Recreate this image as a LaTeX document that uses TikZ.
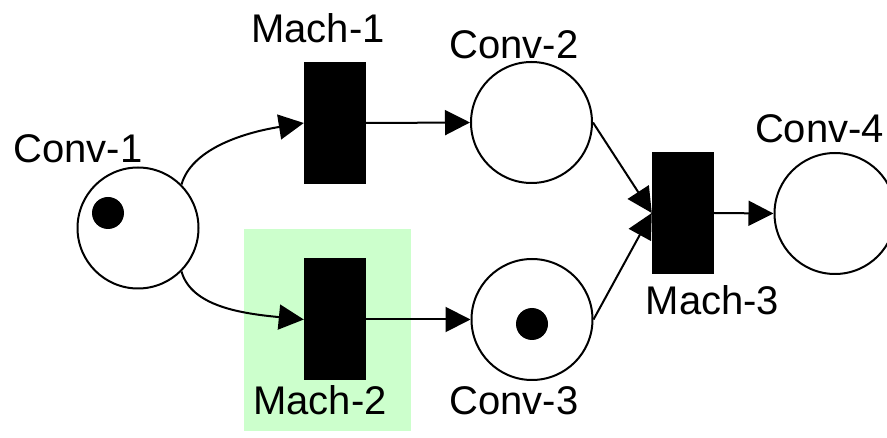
\documentclass[tikz,border=0pt]{standalone}
\usepackage{fontspec}
\setmainfont{Liberation Sans}
\usetikzlibrary{arrows.meta}
\definecolor{hl}{HTML}{CCFFCC}
\tikzset{
  place/.style={circle,draw,line width=2pt,minimum size=121pt,inner sep=0pt},
  trans/.style={rectangle,fill=black,minimum width=62pt,minimum height=122pt,inner sep=0pt},
  token/.style={circle,fill=black,minimum size=32pt,inner sep=0pt},
  lbl/.style={anchor=base,font=\fontsize{40pt}{40pt}\selectfont,inner sep=0pt},
  arc/.style={line width=2pt,-{Triangle[length=25pt,width=25pt]}}
}
\begin{document}
\begin{tikzpicture}[x=1pt,y=-1pt]
\useasboundingbox (0,0) rectangle (887,438);
\fill[hl] (244,229) rectangle (411,431);
% places
\node[place] (c1) at (138,228) {};
\node[place] (c2) at (531.5,122.5) {};
\node[place] (c3) at (532,319.5) {};
\node[place] (c4) at (835,213.5) {};
% tokens
\node[token] (t1) at (108,213) {};
\node[token] (t3) at (532,324) {};
% transitions
\node[trans] (m1) at (335,123) {};
\node[trans] (m2) at (335,319.5) {};
\node[trans] (m3) at (683,213) {};
% labels
\node[lbl] (l1) at (78,163) {Conv-1};
\node[lbl] (l2) at (514,59) {Conv-2};
\node[lbl] (l3) at (514,415) {Conv-3};
\node[lbl] (l4) at (819.5,143) {Conv-4};
\node[lbl] (lm1) at (318,43) {Mach-1};
\node[lbl] (lm2) at (320,415) {Mach-2};
\node[lbl] (lm3) at (712.5,315) {Mach-3};
% arcs
\draw[arc] (c1.45) .. controls +(10,-35) and +(-62,10) .. (m1.west);
\draw[arc] (c1.-45) .. controls +(10,35) and +(-62,-6) .. (m2.west);
\draw[arc] (m1.east) -- (c2.west);
\draw[arc] (m2.east) -- (c3.west);
\draw[arc] (c2.east) -- (m3.west);
\draw[arc] (c3.east) -- (m3.west);
\draw[arc] (m3.east) -- (c4.west);
\end{tikzpicture}
\end{document}
